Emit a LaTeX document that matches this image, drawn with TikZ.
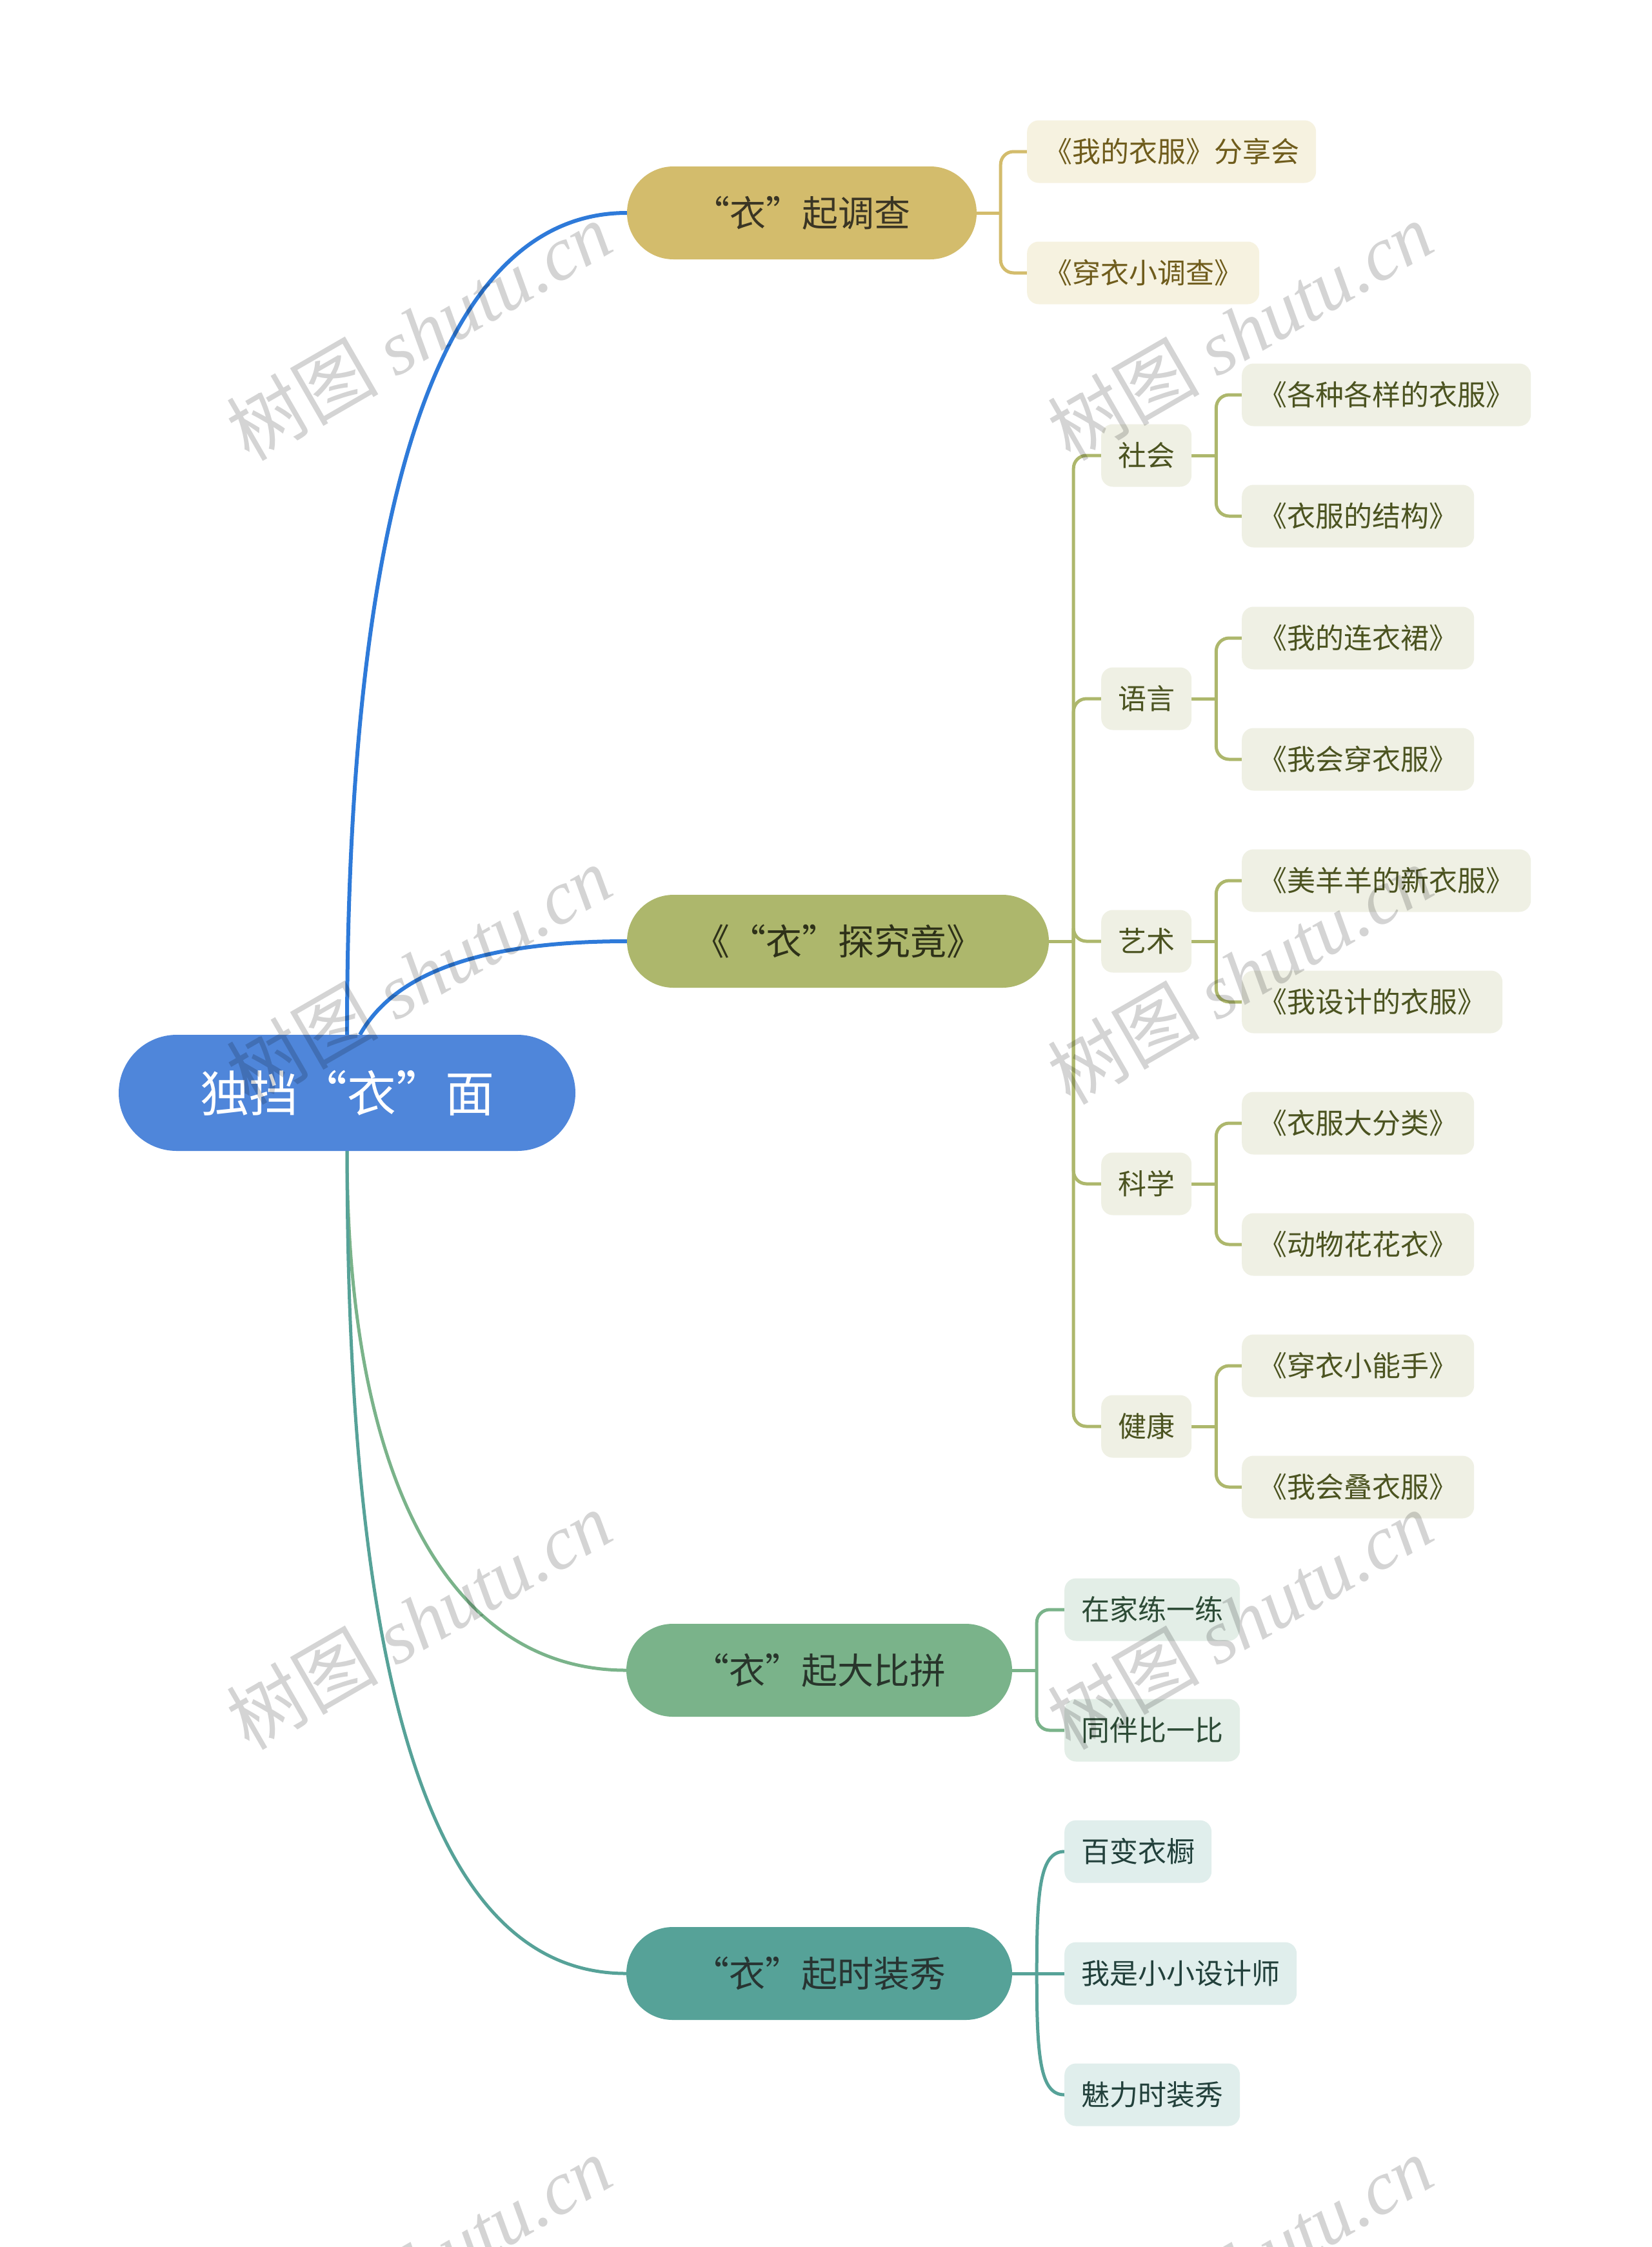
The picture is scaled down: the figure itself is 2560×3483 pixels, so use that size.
\documentclass[tikz,border=0pt]{standalone}
\usepackage{fontspec}
\setmainfont{Noto Sans CJK SC}
\newfontfamily\wmlatin{Liberation Serif}
\usetikzlibrary{calc}
\definecolor{rootc}{HTML}{4F86DA}
\definecolor{bluec}{HTML}{2E7AD9}
\definecolor{goldc}{HTML}{D3BC6C}
\definecolor{goldleafc}{HTML}{F6F2E0}
\definecolor{goldtext}{HTML}{6F5C1C}
\definecolor{goldpt}{HTML}{3A3524}
\definecolor{olivec}{HTML}{ADB76C}
\definecolor{oliveleafc}{HTML}{EFF0E4}
\definecolor{olivetext}{HTML}{4B5320}
\definecolor{olivept}{HTML}{2E3119}
\definecolor{greenc}{HTML}{7AB38A}
\definecolor{greenleafc}{HTML}{E3EEE7}
\definecolor{greentext}{HTML}{2D4B36}
\definecolor{greenpt}{HTML}{28352B}
\definecolor{tealc}{HTML}{56A298}
\definecolor{tealleafc}{HTML}{E0EEEC}
\definecolor{tealtext}{HTML}{22403B}
\definecolor{tealpt}{HTML}{283432}
\pgfdeclarelayer{paper}
\pgfdeclarelayer{links}
\pgfsetlayers{paper,links,main}
\begin{document}
\begin{tikzpicture}[x=1pt,y=-1pt,
  rootbox/.style={rounded corners=90pt, fill=rootc, text=white, minimum height=180pt,
    inner xsep=126pt, inner ysep=0pt, font=\fontsize{76}{80}\selectfont},
  pill/.style={rounded corners=72pt, minimum height=144pt, inner xsep=103pt, inner ysep=0pt,
    font=\fontsize{56}{60}\selectfont},
  leafbox/.style={rounded corners=18pt, minimum height=97pt, inner xsep=26pt, inner ysep=0pt,
    font=\fontsize{44}{48}\selectfont, anchor=west},
  goldleaf/.style={leafbox, fill=goldleafc, text=goldtext},
  oliveleaf/.style={leafbox, fill=oliveleafc, text=olivetext},
  greenleaf/.style={leafbox, fill=greenleafc, text=greentext},
  tealleaf/.style={leafbox, fill=tealleafc, text=tealtext},
  bline/.style={draw=bluec, line width=6pt},
  gline/.style={draw=goldc, line width=5pt},
  oline/.style={draw=olivec, line width=5pt},
  grline/.style={draw=greenc, line width=5pt},
  tline/.style={draw=tealc, line width=5pt},
  wm/.style={text=black, text opacity=0.17, rotate=30, inner sep=0pt,
    font=\fontsize{118}{120}\selectfont}
]
\begin{pgfonlayer}{paper}
\fill[white] (0,0) rectangle (2560,3483);
\end{pgfonlayer}
\useasboundingbox (0,0) rectangle (2560,3483);

% root
\node[rootbox] (root) at (538,1694) {独挡“衣”面};

% branch 1
\node[pill, fill=goldc, text=goldpt] (gold) at (1243,330) {“衣”起调查};
\node[goldleaf] (g1) at (1592,235) {《我的衣服》分享会};
\node[goldleaf] (g2) at (1592,423) {《穿衣小调查》};

% branch 2
\node[pill, fill=olivec, text=olivept] (olive) at (1299,1459) {《“衣”探究竟》};
\node[oliveleaf] (s1) at (1707,706) {社会};
\node[oliveleaf] (s2) at (1707,1083) {语言};
\node[oliveleaf] (s3) at (1707,1459) {艺术};
\node[oliveleaf] (s4) at (1707,1835) {科学};
\node[oliveleaf] (s5) at (1707,2211) {健康};
\node[oliveleaf] (s1a) at (1925,612) {《各种各样的衣服》};
\node[oliveleaf] (s1b) at (1925,800) {《衣服的结构》};
\node[oliveleaf] (s2a) at (1925,989) {《我的连衣裙》};
\node[oliveleaf] (s2b) at (1925,1177) {《我会穿衣服》};
\node[oliveleaf] (s3a) at (1925,1365) {《美羊羊的新衣服》};
\node[oliveleaf] (s3b) at (1925,1553) {《我设计的衣服》};
\node[oliveleaf] (s4a) at (1925,1741) {《衣服大分类》};
\node[oliveleaf] (s4b) at (1925,1929) {《动物花花衣》};
\node[oliveleaf] (s5a) at (1925,2117) {《穿衣小能手》};
\node[oliveleaf] (s5b) at (1925,2305) {《我会叠衣服》};

% branch 3
\node[pill, fill=greenc, text=greenpt] (green) at (1270,2589) {“衣”起大比拼};
\node[greenleaf] (r1) at (1650,2495) {在家练一练};
\node[greenleaf] (r2) at (1650,2682) {同伴比一比};

% branch 4
\node[pill, fill=tealc, text=tealpt] (teal) at (1270,3059) {“衣”起时装秀};
\node[tealleaf] (t1) at (1650,2870) {百变衣橱};
\node[tealleaf] (t2) at (1650,3059) {我是小小设计师};
\node[tealleaf] (t3) at (1650,3247) {魅力时装秀};

\begin{pgfonlayer}{links}
% root connectors
\draw[bline] (root.north) .. controls +(0,-800) and +(-300,0) .. (gold.west);
\draw[bline] ($(root.north)+(20,0)$) .. controls +(42,-74) and +(-271,0) .. (olive.west);
\draw[grline] (root.south) .. controls +(0,516) and +(-271,0) .. (green.west);
\draw[tline] (root.south) .. controls +(0,916) and +(-271,0) .. (teal.west);

% gold bracket
\coordinate (gj) at ($(gold.east)+(37,0)$);
\draw[gline] (gold.east) -- (gj);
\draw[gline, rounded corners=20pt] (gj) |- (g1.west);
\draw[gline, rounded corners=20pt] (gj) |- (g2.west);

% olive brackets
\coordinate (oj) at ($(olive.east)+(38,0)$);
\draw[oline] (olive.east) -- (oj);
\foreach \s in {s1,s2,s3,s4,s5}{
  \draw[oline, rounded corners=20pt] (oj) |- (\s.west);
  \coordinate (\s j) at ($(\s.east)+(38,0)$);
  \draw[oline] (\s.east) -- (\s j);
  \draw[oline, rounded corners=20pt] (\s j) |- (\s a.west);
  \draw[oline, rounded corners=20pt] (\s j) |- (\s b.west);
}

% green bracket
\coordinate (rj) at ($(green.east)+(38,0)$);
\draw[grline] (green.east) -- (rj);
\draw[grline, rounded corners=20pt] (rj) |- (r1.west);
\draw[grline, rounded corners=20pt] (rj) |- (r2.west);

% teal bracket
\coordinate (tj) at ($(teal.east)+(38,0)$);
\draw[tline] (teal.east) -- (t2.west);
\draw[tline] (tj) .. controls +(0,-129) and +(-38,0) .. (t1.west);
\draw[tline] (tj) .. controls +(0,128) and +(-38,0) .. (t3.west);
\end{pgfonlayer}

% watermarks
\foreach \wx/\wy/\wn in {649/513/a,1922/513/b,649/1511/c,1922/1511/d,649/2511/e,1922/2511/f,649/3511/g,1922/3511/h}{
  \node[wm] (wm\wn) at (\wx,\wy) {树图 {\wmlatin\itshape shutu.cn}};
}
\end{tikzpicture}
\end{document}
